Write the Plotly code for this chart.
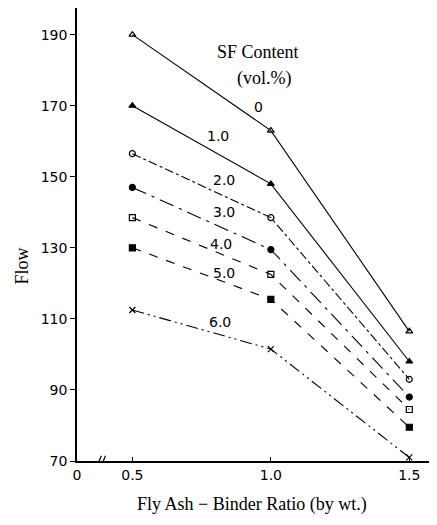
import plotly.graph_objects as go

ratios = [0.5, 1.0, 1.5]
sf_labels = ["0", "1.0", "2.0", "3.0", "4.0", "5.0", "6.0"]
flow_0 = [190, 163, 106.5]
flow_1 = [170, 148, 98]
flow_2 = [156.5, 138.5, 93]
flow_3 = [147, 129.5, 88]
flow_4 = [138.5, 122.5, 84.5]
flow_5 = [130, 115.5, 79.5]
flow_6 = [112.5, 101.5, 71]
series = [flow_0, flow_1, flow_2, flow_3, flow_4, flow_5, flow_6]

x_tickvals = [0.3, 0.5, 1.0, 1.5]
x_ticktext = ["0", "0.5", "1.0", "1.5"]
y_tickvals = [70, 90, 110, 130, 150, 170, 190]

symbols = ["triangle-up-open", "triangle-up", "circle-open", "circle",
           "square-open", "square", "x-thin-open"]
dashes = ["solid", "solid", "dashdot", "longdashdot", "dash", "dash",
          "12px,4px,2px,4px,2px,4px"]
# label anchor positions (x, y in data units)
label_pos = [(0.955, 169.5), (0.81, 161.5), (0.83, 149), (0.83, 140),
             (0.82, 131), (0.83, 123), (0.815, 109)]

fig = go.Figure()
for vals, sym, dsh in zip(series, symbols, dashes):
    fig.add_trace(go.Scatter(
        x=ratios, y=vals, mode="lines+markers",
        line=dict(color="black", width=1.1, dash=dsh),
        marker=dict(symbol=sym, size=6, color="black",
                    line=dict(color="black", width=1.2)),
        showlegend=False))

tick_font = dict(family="DejaVu Sans", size=14, color="black")
for lab, (lx, ly) in zip(sf_labels, label_pos):
    fig.add_annotation(x=lx, y=ly, text=lab, showarrow=False, font=tick_font)

serif = dict(family="Liberation Serif", size=18, color="black")
fig.add_annotation(x=0.955, y=185, text="SF Content", showarrow=False, font=serif)
fig.add_annotation(x=0.975, y=177.6, text="(vol.%)", showarrow=False, font=serif)
fig.add_annotation(xref="paper", yref="paper", x=-0.185, y=0.43, text="Flow",
                   textangle=-90, showarrow=False, font=serif)
fig.add_annotation(xref="paper", yref="paper", x=0.485, y=-0.068, yanchor="top",
                   text="Fly Ash \u2212 Binder Ratio (by wt.)", showarrow=False, font=serif)

# axis break marks
for bx in [0.38, 0.395]:
    fig.add_shape(type="line", x0=bx - 0.008, x1=bx + 0.008, y0=68.5, y1=71.5,
                  line=dict(color="black", width=1.2))

fig.update_layout(
    width=429, height=517,
    margin=dict(l=69, r=0, t=0, b=64),
    paper_bgcolor="white", plot_bgcolor="white",
    xaxis=dict(range=[0.3, 1.6], tickvals=x_tickvals, ticktext=x_ticktext,
               showgrid=False, zeroline=False, showline=True, linecolor="black",
               linewidth=1.5, ticks="inside", ticklen=4, tickcolor="black",
               tickfont=tick_font),
    yaxis=dict(range=[70, 197.5], tickvals=y_tickvals, showgrid=False,
               zeroline=False, showline=True, linecolor="black", linewidth=1.5,
               ticks="outside", ticklen=5, tickcolor="black", tickfont=tick_font),
)

fig.write_html("out.html")
